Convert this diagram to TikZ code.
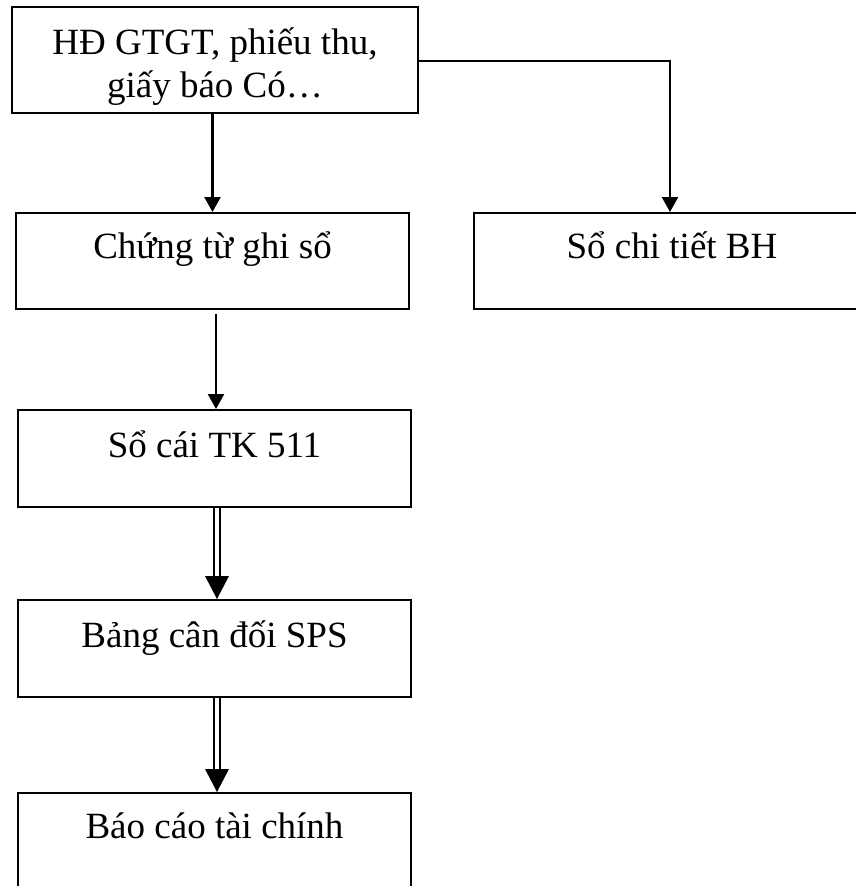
\documentclass[tikz,border=0pt]{standalone}
\usepackage{fontspec}
\setmainfont{Liberation Serif}
\usetikzlibrary{arrows.meta,calc}
\begin{document}
\begin{tikzpicture}[x=1pt,y=-1pt,
  box/.style={draw, line width=2pt, inner sep=0pt, minimum width=393pt, minimum height=97pt},
  lbl/.style={anchor=base, inner sep=0pt, font=\fontsize{37}{43}\selectfont},
  arr/.style={line width=2.4pt, -{Triangle[length=15pt,width=16pt]}},
  dbl/.style={line width=2.2pt}]
\useasboundingbox (0,0) rectangle (855,886);
% boxes
\node[box, minimum width=406pt, minimum height=106pt] (top) at (215,60) {};
\node[box, minimum height=96pt] (b2) at (212.5,261) {};
\node[box, minimum width=396pt, minimum height=96pt] (rb) at (672,261) {};
\node[box] (b3) at (214.5,458.5) {};
\node[box] (b4) at (214.5,648.5) {};
\node[box] (b5) at (214.5,841.5) {};
% texts
\node[lbl] (t1) at (215,54) {HĐ GTGT, phiếu thu,};
\node[lbl] (t2) at (215,97) {giấy báo Có…};
\node[lbl] (t3) at (212.5,258) {Chứng từ ghi sổ};
\node[lbl] (t4) at (672,258) {Sổ chi tiết BH};
\node[lbl] (t5) at (214.5,457) {Sổ cái TK 511};
\node[lbl] (t6) at (214.5,647) {Bảng cân đối SPS};
\node[lbl] (t7) at (214.5,838) {Báo cáo tài chính};
% single arrows
\draw[arr] (top.south -| b2.north) -- (b2.north);
\draw[arr] ($(top.east)+(0,1)$) -| ($(rb.north)+(-2,0)$);
\draw[arr] ($(b2.south)+(3.5,4)$) -- ($(b3.north)+(1.5,0)$);
% double arrows
\draw[dbl] ($(b3.south)+(-0.5,0)$) -- ($(b4.north)+(-0.5,-20)$);
\draw[dbl] ($(b3.south)+(5.5,0)$) -- ($(b4.north)+(5.5,-20)$);
\fill ($(b4.north)+(-9.5,-23)$) -- ($(b4.north)+(14.5,-23)$) -- ($(b4.north)+(2.5,0)$) -- cycle;
\draw[dbl] ($(b4.south)+(-0.5,0)$) -- ($(b5.north)+(-0.5,-20)$);
\draw[dbl] ($(b4.south)+(5.5,0)$) -- ($(b5.north)+(5.5,-20)$);
\fill ($(b5.north)+(-9.5,-23)$) -- ($(b5.north)+(14.5,-23)$) -- ($(b5.north)+(2.5,0)$) -- cycle;
\end{tikzpicture}
\end{document}
